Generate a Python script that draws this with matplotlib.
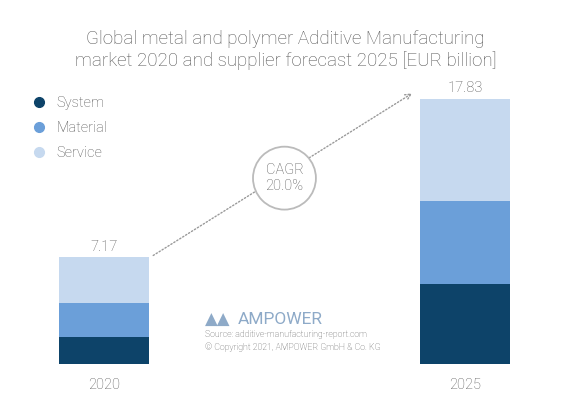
import matplotlib.pyplot as plt
from matplotlib.lines import Line2D
import numpy as np

plt.rcParams["font.family"] = ["Roboto", "DejaVu Sans"]
plt.rcParams["font.weight"] = "light"

years = ["2020", "2025"]
system = [1.83, 5.40]
material = [2.30, 5.55]
service = [3.04, 6.88]
totals = [7.17, 17.83]
labels = ["System", "Material", "Service"]
colors = ["#0d4369", "#6b9fd9", "#c6d9ef"]
grey = "#555555"

fig = plt.figure(figsize=(5.71, 4.0), dpi=100)
ax = fig.add_axes([40 / 571, 36 / 400, 490 / 571, 284 / 400])
x = np.arange(len(years))
w = 0.25
bottom = np.zeros(2)
for vals, lab, c in zip([system, material, service], labels, colors):
    ax.bar(x, vals, w, bottom=bottom, color=c, label=lab)
    bottom += vals
for xi, t in zip(x, totals):
    ax.text(xi, t + 0.25, f"{t:.2f}", ha="center", va="bottom", fontsize=10.5, color=grey)

ax.set_xlim(-0.177, 1.18)
ax.set_ylim(0, 19.1)
ax.set_xticks(x, years)
ax.tick_params(length=0, labelsize=10.5, colors=grey, pad=10)
ax.set_yticks([])
for s in ax.spines.values():
    s.set_visible(False)

ax.annotate("", xy=(0.86, 18.3), xytext=(0.13, 7.2),
            arrowprops=dict(arrowstyle="->", color="#999999", ls=(0, (1, 1.5)), lw=1))
ax.text(0.5, 12.5, "CAGR\n20.0%", ha="center", va="center", fontsize=10.5, color=grey,
        bbox=dict(boxstyle="circle,pad=0.85", fc="white", ec="#bbbbbb", lw=1.3))

handles = [Line2D([], [], ls="", marker="o", ms=7, color=c) for c in colors]
ax.legend(handles, labels, loc="upper left", bbox_to_anchor=(-0.04, 0.99), frameon=False,
          fontsize=10.5, labelcolor=grey, handlelength=0.8, labelspacing=0.75, handletextpad=0.8)

fig.text(0.5, 0.925, "Global metal and polymer Additive Manufacturing\nmarket 2020 and supplier forecast 2025 [EUR billion]",
         ha="center", va="top", fontsize=13.5, color=grey, linespacing=1.25)
fig.text(238 / 571, 1 - 320 / 400, "AMPOWER", fontsize=12.5, color="#8eaac8", va="center",
         weight="normal")
fig.text(205 / 571, 1 - 320 / 400, "▲▲", fontsize=12, color="#8eaac8", va="center",
         family=["DejaVu Sans"], weight="normal")
fig.text(205 / 571, 1 - 341 / 400, "Source: additive-manufacturing-report.com\n© Copyright 2021, AMPOWER GmbH & Co. KG",
         fontsize=6.3, color=grey, va="center", linespacing=1.4)

fig.savefig("out.png", dpi=100)
